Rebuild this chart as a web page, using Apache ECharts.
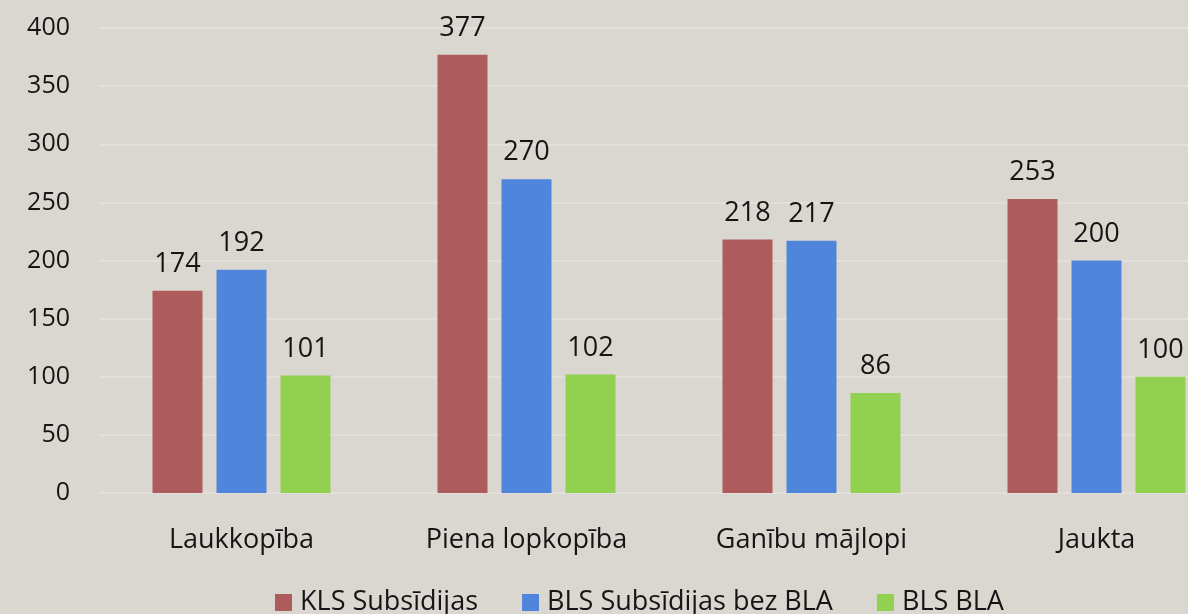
<!DOCTYPE html>
<html>
<head>
<meta charset="utf-8">
<script src="https://cdn.jsdelivr.net/npm/echarts@6/dist/echarts.min.js"></script>
<style>
html,body{margin:0;padding:0;background:#dad7d1;}
#c{width:1188px;height:614px;}
</style>
</head>
<body>
<div id="c"></div>
<script>
const categories = ['Laukkopība', 'Piena lopkopība', 'Ganību mājlopi', 'Jaukta'];
const seriesNames = ['KLS Subsīdijas', 'BLS Subsīdijas bez BLA', 'BLS BLA'];
const klsSubsidijas = [174, 377, 218, 253];
const blsSubsidijasBezBla = [192, 270, 217, 200];
const blsBla = [101, 102, 86, 100];
const yTicks = [0, 50, 100, 150, 200, 250, 300, 350, 400];

const colors = ['#ad5b5b', '#4f86dc', '#92d050'];
const FONT = 'Open Sans';
const textColor = '#151515';

const chart = echarts.init(document.getElementById('c'), null, {renderer: 'canvas'});
const valueLabel = {
  show: true, position: 'top', distance: 13,
  color: textColor, fontFamily: FONT, fontSize: 27
};
chart.setOption({
  backgroundColor: '#dad7d1',
  animation: false,
  color: colors,
  grid: {left: 99, width: 1140, top: 28, bottom: 121, containLabel: false, outerBoundsMode: 'none'},
  legend: {
    data: seriesNames,
    left: 270, top: 584,
    icon: 'rect', itemWidth: 17, itemHeight: 17, itemGap: 44,
    textStyle: {color: textColor, fontFamily: FONT, fontSize: 27, lineHeight: 27, padding: [0, 0, 0, 3]}
  },
  xAxis: {
    type: 'category',
    data: categories,
    axisLine: {show: false},
    axisTick: {show: false},
    axisLabel: {color: textColor, fontFamily: FONT, fontSize: 27, margin: 34}
  },
  yAxis: {
    type: 'value',
    min: yTicks[0], max: yTicks[yTicks.length - 1], interval: 50,
    axisLine: {show: false},
    axisTick: {show: false},
    splitLine: {lineStyle: {color: '#e4e2de', width: 1.5}},
    axisLabel: {color: textColor, fontFamily: FONT, fontSize: 25, margin: 29}
  },
  series: [
    {name: seriesNames[0], type: 'bar', data: klsSubsidijas, barWidth: 50, barGap: '28%', label: valueLabel},
    {name: seriesNames[1], type: 'bar', data: blsSubsidijasBezBla, barWidth: 50, barGap: '28%', label: valueLabel},
    {name: seriesNames[2], type: 'bar', data: blsBla, barWidth: 50, barGap: '28%', label: valueLabel}
  ]
});
</script>
</body>
</html>
